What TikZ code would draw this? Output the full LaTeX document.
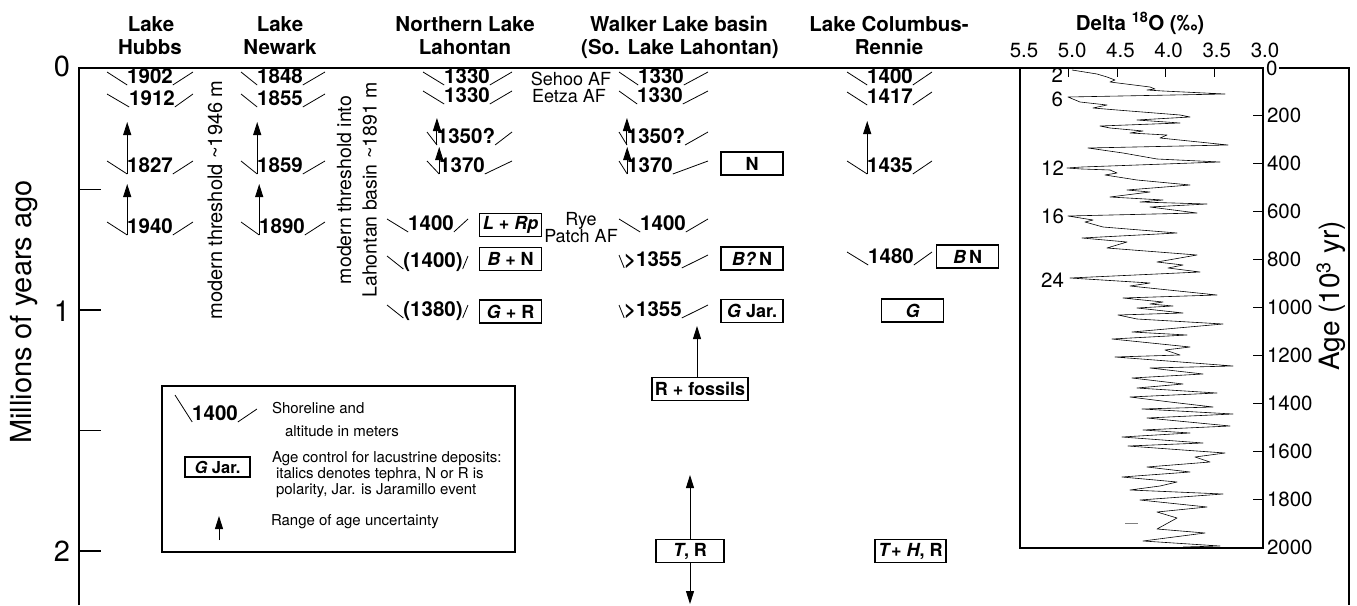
\documentclass[tikz,border=0pt]{standalone}
\usepackage{fontspec}
\setmainfont{TeX Gyre Heros}
\usetikzlibrary{arrows.meta,calc}
\newcommand\fsz[1]{\fontsize{#1pt}{#1pt}\selectfont}
% shoreline marker: name, x centre, baseline y, text, left arm x, right arm x, left rise
\newcommand\shoreg[7]{%
  \node[shoretxt] (#1) at (#2,#3) {#4};
  \coordinate (#1-v) at ($(#1.base west)+(0,2)$);
  \coordinate (#1-w) at ($(#1.base east)+(0,2)$);
  \draw[arm] (#5,#3-#7) -- (#1-v);
  \draw[arm] (#1-w) -- (#6,#3-11);}
\newcommand\shore[6]{\shoreg{#1}{#2}{#3}{#4}{#5}{#6}{11}}
\begin{document}
\begin{tikzpicture}[x=1pt,y=-1pt,
  every node/.style={inner sep=0pt,outer sep=0pt},
  ttl/.style={font=\fsz{20.5}\bfseries,anchor=base},
  shoretxt/.style={font=\fsz{20.5}\bfseries,anchor=base},
  arm/.style={line width=0.8pt},
  agebox/.style={draw,line width=1.1pt,minimum width=62pt,minimum height=23pt,font=\fsz{18}\bfseries},
  arr/.style={line width=0.9pt,-{Triangle[length=13pt,width=8pt]}},
  frameline/.style={line width=1.4pt},
  lbl/.style={font=\fsz{18},anchor=base},
  leg/.style={font=\fsz{15},anchor=west},
  ax/.style={font=\fsz{20.5}},
]
\useasboundingbox (0,0) rectangle (1357,605);

% frame and left axis
\draw[frameline] (79,605) -- (79,68) -- (1349,68) -- (1349,605);
\foreach \t in {0.5,1,1.5,2} \draw[line width=1.2pt] (79,69+241*\t) -- (101,69+241*\t);
\node[font=\fsz{29},anchor=east] (y0) at (70,66) {0};
\node[font=\fsz{29},anchor=east] (y1) at (70,311) {1};
\node[font=\fsz{29},anchor=east] (y2) at (70,551) {2};
\node[font=\fsz{29},rotate=90] (ylab) at (24,312) {Millions of years ago};

% column titles
\node[ttl] (t1a) at (151,31) {Lake};
\node[ttl] (t1b) at (150,54) {Hubbs};
\node[ttl] (t2a) at (280,31) {Lake};
\node[ttl] (t2b) at (280,54) {Newark};
\node[ttl] (t3a) at (465,31) {Northern Lake};
\node[ttl] (t3b) at (465,54) {Lahontan};
\node[ttl] (t4a) at (679,31) {Walker Lake basin};
\node[ttl] (t4b) at (680,54) {(So. Lake Lahontan)};
\node[ttl] (t5a) at (889,31) {Lake Columbus-};
\node[ttl] (t5b) at (889,54) {Rennie};
\node[ttl] (t6) at (1140,30) {Delta \textsuperscript{18}O (‰)};

% threshold labels
\node[font=\fsz{20},rotate=90] (thr1) at (215,200) {modern threshold \textasciitilde1946 m};
\node[font=\fsz{19.5},rotate=90,align=center] (thr2) at (357,190) {modern threshold into\\[6pt]Lahontan basin \textasciitilde1891 m};

% Lake Hubbs
\shore{h1}{150}{83}{1902}{107}{193}
\shore{h2}{152}{105}{1912}{107}{193}
\shore{h3}{150}{172}{1827}{107}{193}
\shore{h4}{150}{233}{1940}{107}{193}
% Lake Newark
\shore{n1}{280}{83}{1848}{241}{325}
\shore{n2}{280}{105}{1855}{241}{325}
\shore{n3}{280}{172}{1859}{241}{325}
\shore{n4}{282}{233}{1890}{241}{325}
% Northern Lake Lahontan
\shore{l1}{467}{83}{1330}{423}{512}
\shore{l2}{467}{102}{1330}{423}{512}
\shore{l3}{466}{143}{1350?}{427}{512}
\shore{l4}{462}{172}{1370}{427}{512}
\shore{l5}{431}{230}{1400}{387}{468}
\shore{l6}{433}{267}{(1400)}{387}{468}
\shore{l7}{433}{316}{(1380)}{387}{468}
% Walker Lake basin
\shore{w1}{661}{83}{1330}{619}{708}
\shore{w2}{660}{102}{1330}{619}{708}
\shore{w3}{656}{143}{1350?}{619}{708}
\shore{w4}{650}{172}{1370}{619}{708}
\shore{w5}{663}{230}{1400}{619}{708}
\shore{w6}{653}{266}{>1355}{619}{708}
\shore{w7}{653}{316}{>1355}{619}{708}
% Lake Columbus-Rennie
\shore{c1}{890}{83}{1400}{847}{932}
\shore{c2}{890}{103}{1417}{847}{932}
\shore{c3}{890}{172}{1435}{847}{932}
\shore{c4}{891}{263}{1480}{847}{932}

% ash-bed labels
\node[lbl] (sehoo) at (571,85) {Sehoo AF};
\node[lbl] (eetza) at (569,102) {Eetza AF};
\node[lbl] (rye1) at (581,225) {Rye};
\node[lbl] (rye2) at (581,242) {Patch AF};

% uncertainty arrows
\foreach \n/\d in {h3/52,h4/51,n3/52,n4/51,l3/27,l4/27,w3/27,w4/27,c3/53}{
  \coordinate (\n-tip) at ($(\n-v)+(0,-\d)$);
  \draw[arr] (\n-v) -- (\n-tip);
}

% age-control boxes
\node[agebox] (b1) at (510.5,225) {\textit{L} + \textit{Rp}};
\node[agebox] (b2) at (510.5,259) {\textit{B} + N};
\node[agebox] (b3) at (510.5,311.5) {\textit{G} + R};
\node[agebox] (b4) at (752,163.5) {N};
\node[agebox] (b5) at (752,258.5) {\textit{B?}\,N};
\node[agebox] (b6) at (752,311) {\textit{G} Jar.};
\node[agebox] (b7) at (967.5,256.5) {\textit{B}\,N};
\node[agebox] (b8) at (912.5,310.5) {\textit{G}};
\node[agebox,minimum width=96pt] (rf) at (700,389) {R + fossils};
\node[agebox,minimum width=68pt] (tr) at (690,551) {\textit{T}, R};
\node[agebox,minimum width=71pt] (th) at (910.5,551) {\textit{T}+ \textit{H}, R};
\coordinate (rft) at (697,326);
\draw[arr] (rft |- rf.north) -- (rft);
\coordinate (trt) at (690,475);
\coordinate (trb) at (690,604);
\draw[arr] (tr.north) -- (trt);
\draw[arr] (tr.south) -- (trb);

% legend
\node[draw,line width=1.2pt,minimum width=353pt,minimum height=166pt] (legend) at (338.5,469) {};
\shoreg{lg}{215}{420}{1400}{175}{257}{25}
\node[leg] (lt1) at (272,408) {Shoreline and};
\node[leg] (lt2) at (285,431) {altitude in meters};
\node[agebox,minimum width=65pt,minimum height=20pt,font=\fsz{16.5}\bfseries] (lgb) at (217.5,467) {\textit{G} Jar.};
\node[leg] (lt3) at (272,459) {Age control for lacustrine deposits:};
\node[leg] (lt4) at (276,475) {italics denotes tephra, N or R is};
\node[leg] (lt5) at (276,491) {polarity, Jar. is Jaramillo event};
\coordinate (la0) at (219,540);
\coordinate (la1) at (219,516);
\draw[arr] (la0) -- (la1);
\node[leg] (lt6) at (271,522) {Range of age uncertainty};

% delta 18O panel
\draw[line width=1.2pt] (1020,68) rectangle (1263,548);
\foreach \i in {1,...,4} \draw[line width=1pt] (1020+48.6*\i,68) -- (1020+48.6*\i,77);
\foreach \v [count=\i from 0] in {5.5,5.0,4.5,4.0,3.5,3.0}
  \node[ax,anchor=base] (dx\i) at (1024+48.2*\i,57) {\v};
\foreach \a in {200,400,...,2000}{
  \draw[line width=1pt] (1253,67+0.24*\a) -- (1263,67+0.24*\a);
  \node[ax,anchor=west] (ra\a) at (1267,67+0.24*\a) {\a};
}
\node[ax,anchor=west,fill=white,inner xsep=2pt] (ra0) at (1264,68) {0};
\node[font=\fsz{28},rotate=90] (agelab) at (1331,296) {Age (10\textsuperscript{3} yr)};
\node[ax,anchor=east] (s2) at (1063,75) {2};
\node[ax,anchor=east] (s6) at (1063,99) {6};
\node[ax,anchor=east] (s12) at (1064,168) {12};
\node[ax,anchor=east] (s16) at (1064,216) {16};
\node[ax,anchor=east] (s24) at (1064,280) {24};
\draw[line width=0.6pt,line join=round] plot coordinates {
(1072,70) (1097,74) (1107,77) (1115,80) (1110,82) (1150,87) (1155,89) (1147,90) (1163,91)
(1225,94) (1068,97) (1080,102) (1107,105) (1093,108) (1117,110) (1180,115) (1190,117)
(1137,120) (1180,123) (1100,126) (1110,128) (1143,131) (1130,133) (1167,135) (1160,138)
(1228,145) (1088,148) (1123,153) (1157,159) (1220,162) (1082,167) (1067,168) (1082,169) (1110,170) (1117,173)
(1105,175) (1137,180) (1190,185) (1127,190) (1150,192) (1110,197) (1163,200) (1140,202)
(1207,204) (1150,207) (1197,213) (1068,216) (1093,220) (1085,222) (1103,227) (1177,233)
(1082,238) (1127,242) (1107,248) (1197,255) (1157,262) (1183,265) (1168,268) (1200,272)
(1070,278) (1150,283) (1130,286) (1217,295) (1123,298) (1163,302) (1150,304) (1173,306)
(1137,308) (1183,313) (1118,315) (1137,319) (1223,324) (1132,332) (1187,335) (1112,339)
(1190,347) (1165,350) (1180,355) (1115,357) (1233,366) (1150,368) (1203,374) (1132,378)
(1183,384) (1137,388) (1217,393) (1130,397) (1170,402) (1213,407) (1142,409) (1233,414)
(1147,418) (1230,426) (1143,430) (1190,433) (1122,437) (1203,443) (1128,446) (1183,450)
(1225,453) (1195,457) (1210,462) (1147,467) (1190,472) (1122,477) (1177,482) (1160,486)
(1130,490) (1223,494) (1140,500) (1207,507) (1157,512) (1177,518) (1157,529) (1205,533)
(1143,541) (1220,546) (1183,547)};
\draw[gray,line width=0.8pt] (1125,523) -- (1138,523);
\end{tikzpicture}
\end{document}
